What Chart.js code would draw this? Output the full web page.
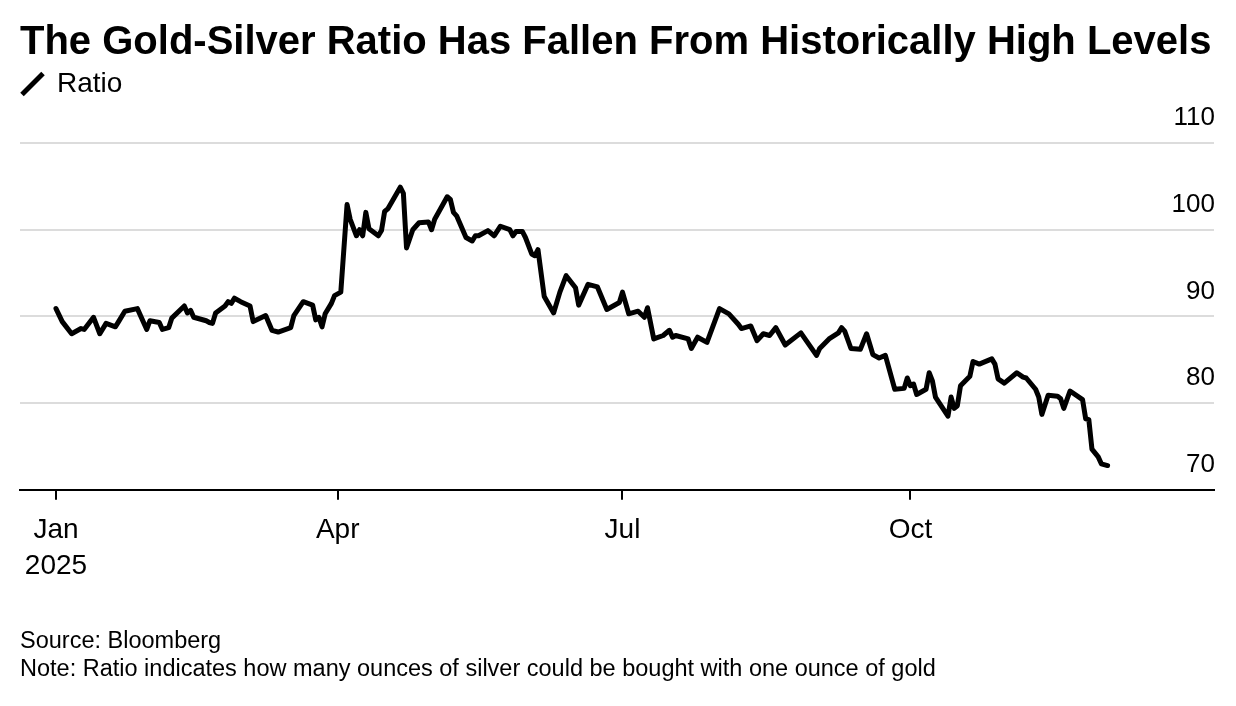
<!DOCTYPE html>
<html>
<head>
<meta charset="utf-8">
<title>Gold-Silver Ratio</title>
<script src="https://cdn.jsdelivr.net/npm/chart.js@4.4.1/dist/chart.umd.min.js"></script>
<style>
  html, body { margin: 0; padding: 0; background: #fff; }
  #wrap { width: 1236px; height: 706px; }
</style>
</head>
<body>
<div id="wrap"><canvas id="ratioChart" width="1236" height="706"></canvas></div>
<script>
// days since 1 Jan 2025
var days = [
  0, 2, 5, 8, 9, 12, 14, 16, 19, 20,
  22, 26, 29, 30, 33, 34, 36, 37, 41, 42,
  43, 44, 48, 49, 50, 51, 54, 55, 56, 57,
  59, 62, 63, 67, 69, 71, 75, 76, 79, 82,
  83, 84, 85, 86, 88, 89, 91, 93, 94, 96,
  97, 98, 99, 100, 103, 104, 105, 106, 110, 111,
  112, 114, 116, 119, 120, 121, 125, 126, 127, 128,
  131, 133, 134, 135, 138, 140, 142, 145, 146, 147,
  149, 150, 152, 153, 154, 156, 159, 161, 163, 166,
  167, 170, 173, 176, 180, 181, 183, 186, 188, 189,
  191, 194, 196, 197, 198, 202, 203, 205, 208, 212,
  215, 218, 219, 222, 224, 226, 228, 230, 233, 238,
  243, 244, 247, 250, 251, 252, 254, 257, 259, 261,
  263, 265, 268, 271, 272, 273, 274, 275, 278, 279,
  280, 281, 285, 286, 287, 288, 289, 292, 293, 295,
  299, 300, 301, 303, 307, 309, 310, 313, 314, 315,
  317, 320, 321, 322, 324, 328, 329, 330, 331, 333,
  334, 336
];

// gold-silver ratio
var ratio = [
  90.9, 89.4, 88.0, 88.6, 88.5, 89.9, 88.0, 89.2, 88.8, 89.4,
  90.6, 90.9, 88.5, 89.5, 89.3, 88.5, 88.7, 89.8, 91.2, 90.4,
  90.7, 89.9, 89.5, 89.3, 89.2, 90.4, 91.2, 91.7, 91.5, 92.1,
  91.7, 91.2, 89.4, 90.1, 88.4, 88.2, 88.7, 90.1, 91.7, 91.3,
  89.6, 89.9, 88.8, 90.3, 91.5, 92.4, 92.8, 102.9, 101.2, 99.3,
  100.0, 99.3, 102.0, 100.1, 99.3, 99.9, 102.1, 102.4, 104.9, 104.2,
  97.9, 100.0, 100.8, 100.9, 100.0, 101.2, 103.8, 103.5, 102.0, 101.6,
  99.1, 98.7, 99.3, 99.3, 99.9, 99.3, 100.4, 100.0, 99.3, 99.8,
  99.8, 99.1, 97.2, 97.0, 97.7, 92.3, 90.4, 92.8, 94.7, 93.3,
  91.3, 93.7, 93.4, 90.8, 91.6, 92.8, 90.3, 90.6, 89.9, 91.0,
  87.4, 87.8, 88.4, 87.6, 87.8, 87.4, 86.3, 87.6, 87.0, 90.9,
  90.3, 89.1, 88.6, 88.9, 87.2, 88.0, 87.8, 88.7, 86.7, 88.1,
  85.5, 86.3, 87.4, 88.1, 88.7, 88.3, 86.3, 86.2, 88.0, 85.6,
  85.2, 85.5, 81.6, 81.7, 82.9, 82.0, 82.2, 81.0, 81.6, 83.5,
  82.6, 80.7, 78.5, 80.7, 79.4, 79.7, 82.0, 83.1, 84.8, 84.5,
  85.1, 84.5, 82.8, 82.3, 83.5, 83.0, 82.9, 81.6, 80.7, 78.7,
  80.9, 80.8, 80.5, 79.4, 81.4, 80.4, 78.2, 78.1, 74.7, 73.8,
  73.0, 72.8
];

// x axis: first day of Jan, Apr, Jul, Oct
var monthTickDays = [0, 90, 181, 273];
var monthTickLabels = [['Jan', '2025'], 'Apr', 'Jul', 'Oct'];
var yTicks = [70, 80, 90, 100, 110];

var FONT = "'Liberation Sans', Arial, Helvetica, sans-serif";

// push the plot down below the legend
var legendGap = {
  id: 'legendGap',
  beforeLayout: function(chart) {
    var lg = chart.legend;
    if (lg && !lg._gapPatched) {
      var fit = lg.fit;
      lg.fit = function() {
        fit.call(this);
        this.height += 35;
      };
      lg._gapPatched = true;
    }
  }
};

var points = days.map(function(d, i) { return {x: d, y: ratio[i]}; });

new Chart(document.getElementById('ratioChart').getContext('2d'), {
  type: 'line',
  data: {
    datasets: [{
      label: 'Ratio',
      data: points,
      borderColor: '#000',
      backgroundColor: '#000',
      borderWidth: 5,
      borderJoinStyle: 'round',
      borderCapStyle: 'round',
      pointRadius: 0,
      pointStyle: 'line',
      pointRotation: -45,
      tension: 0
    }]
  },
  options: {
    responsive: false,
    animation: false,
    layout: { padding: { left: 20, right: 20, top: 21, bottom: 0 } },
    plugins: {
      title: {
        display: true,
        text: 'The Gold-Silver Ratio Has Fallen From Historically High Levels',
        align: 'start',
        color: '#000',
        font: { family: FONT, size: 40, weight: 'bold', lineHeight: 1.1 },
        padding: { top: 0, bottom: 3 }
      },
      legend: {
        display: true,
        align: 'start',
        labels: {
          usePointStyle: true,
          boxWidth: 21,
          boxHeight: 21,
          padding: 2,
          color: '#000',
          font: { family: FONT, size: 28 }
        }
      },
      subtitle: {
        display: true,
        position: 'bottom',
        align: 'start',
        text: ['Source: Bloomberg', 'Note: Ratio indicates how many ounces of silver could be bought with one ounce of gold'],
        color: '#000',
        font: { family: FONT, size: 23.5, lineHeight: 1.19 },
        padding: { top: 30, bottom: 23 }
      },
      tooltip: { enabled: false }
    },
    scales: {
      x: {
        type: 'linear',
        min: -11.5,
        max: 370,
        afterBuildTicks: function(scale) {
          scale.ticks = monthTickDays.map(function(v) { return {value: v}; });
        },
        ticks: {
          autoSkip: false,
          maxRotation: 0,
          padding: 12.5,
          color: '#000',
          font: { family: FONT, size: 28, lineHeight: 1.29 },
          callback: function(value) {
            var i = monthTickDays.indexOf(value);
            return i >= 0 ? monthTickLabels[i] : '';
          }
        },
        grid: {
          drawOnChartArea: false,
          drawTicks: true,
          tickLength: 10,
          color: '#000',
          lineWidth: 2
        },
        border: { display: true, color: '#000', width: 2 }
      },
      y: {
        position: 'right',
        min: 70,
        max: 110,
        afterBuildTicks: function(scale) {
          scale.ticks = yTicks.map(function(v) { return {value: v}; });
        },
        ticks: {
          mirror: true,
          padding: 1,
          labelOffset: -25,
          color: '#000',
          font: { family: FONT, size: 26 }
        },
        grid: {
          drawTicks: false,
          lineWidth: 2,
          color: function(ctx) {
            return ctx.tick && ctx.tick.value === 70 ? 'rgba(0,0,0,0)' : '#dcdcdc';
          }
        },
        border: { display: false }
      }
    }
  },
  plugins: [legendGap]
});
</script>
</body>
</html>
